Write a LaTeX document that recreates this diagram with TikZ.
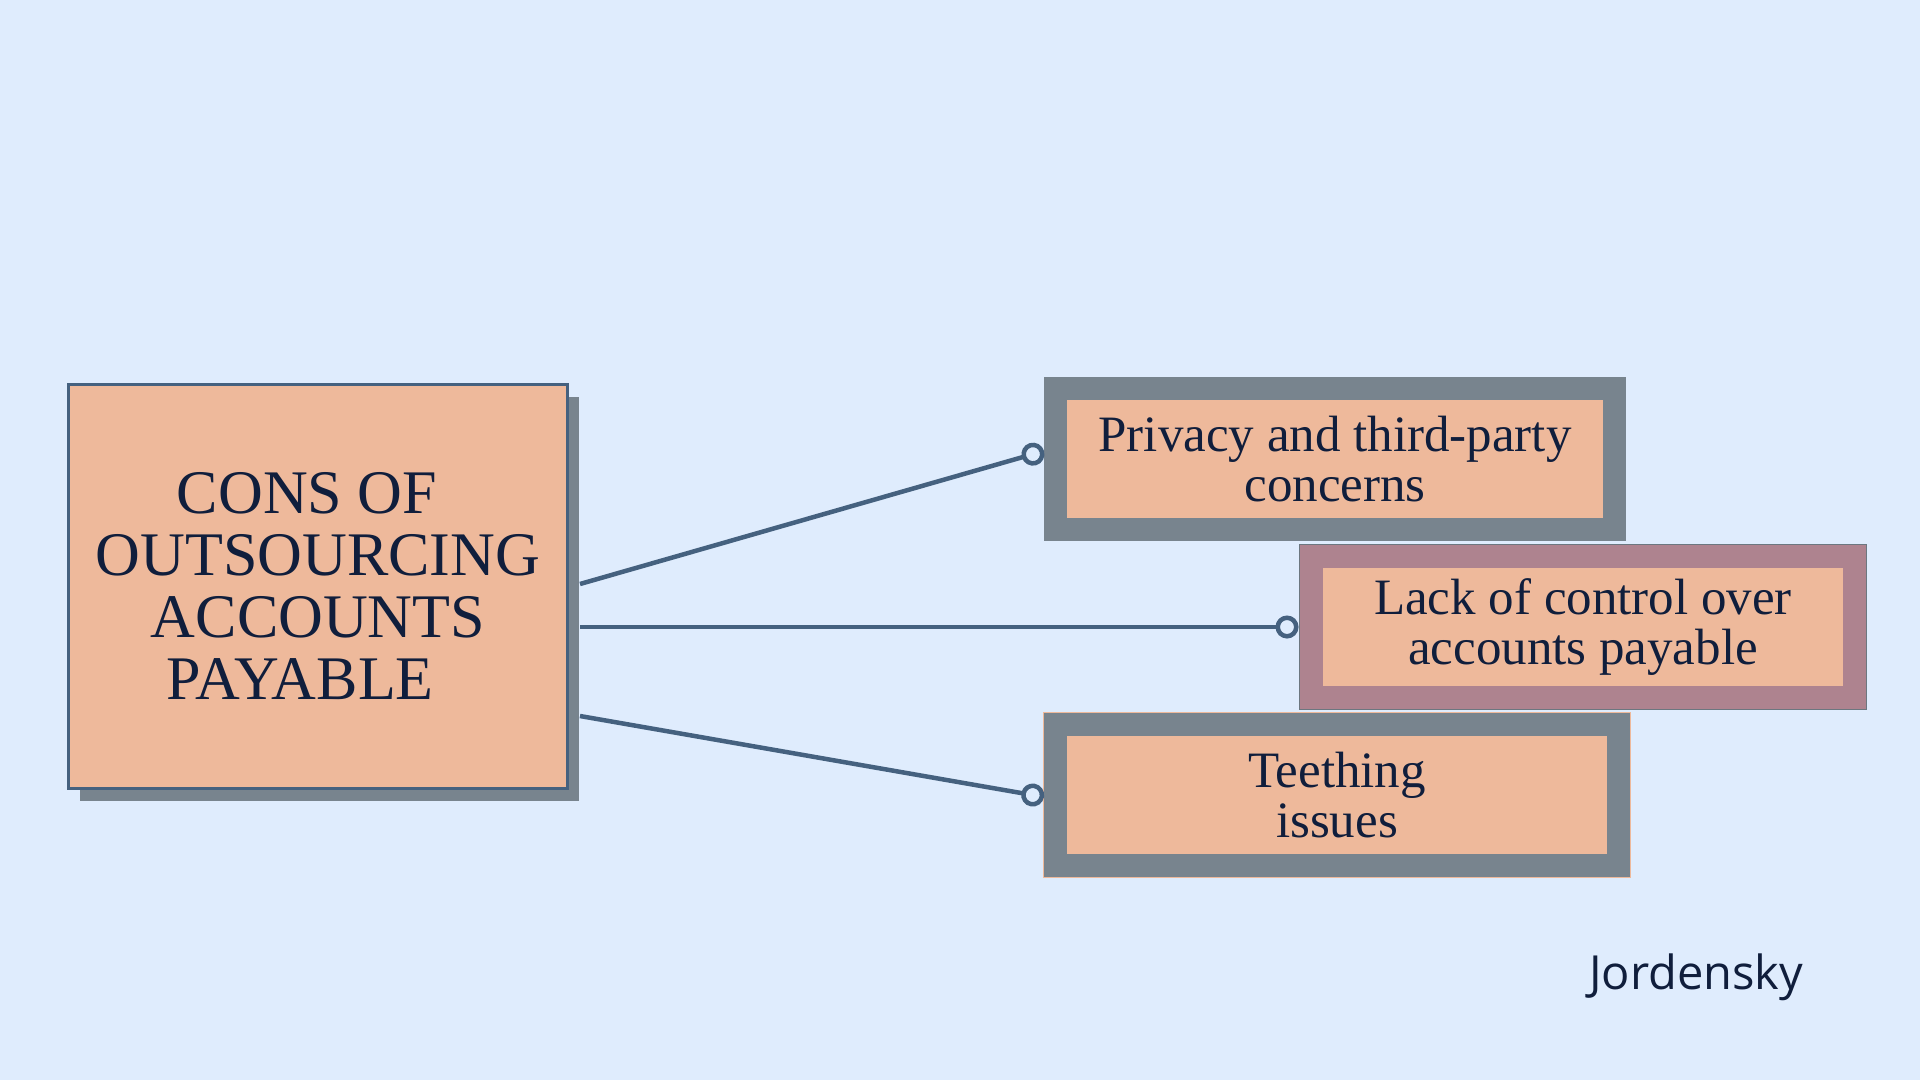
\documentclass[tikz,border=0pt]{standalone}
\usepackage{fontspec}
\setmainfont{Liberation Serif}
\newfontfamily\signfont{Open Sans}
\usetikzlibrary{arrows.meta}
\usetikzlibrary{calc}
\usetikzlibrary{shadows}

\definecolor{bgblue}{HTML}{DFECFD}
\definecolor{peach}{HTML}{EEB99B}
\definecolor{slateframe}{HTML}{78848E}
\definecolor{mauveframe}{HTML}{AE838F}
\definecolor{linkblue}{HTML}{45617F}
\definecolor{inkblue}{HTML}{101E3C}

\begin{document}
\begin{tikzpicture}[x=1pt, y=-1pt]

  % Canvas
  \path [fill=bgblue] (0,0) rectangle (1920,1080);
  \useasboundingbox (0,0) rectangle (1920,1080);

  \path
     coordinate (main)    at (318, 586.5)
     coordinate (privacy) at (1335, 459)
     coordinate (control) at (1583, 627)
     coordinate (teeth)   at (1337, 795)
     coordinate (mtop)    at (580, 584)
     coordinate (mmid)    at (580, 627)
     coordinate (mbot)    at (580, 716)
     coordinate (sign)    at (1589, 989)
    ;

  % Title box
  \tikzset{titlestyle/.style = {shape=rectangle, draw=linkblue, line width=3pt, fill=peach,
      minimum width=499pt, minimum height=404pt, align=center, text=inkblue,
      font=\fontsize{62}{62}\selectfont,
      drop shadow={shadow xshift=11pt, shadow yshift=-12pt, fill=slateframe, opacity=1}}}

  \node [titlestyle] (Main) at (main)
        {CONS OF\hspace*{22pt}\\OUTSOURCING\hspace*{16pt}\\ACCOUNTS\hspace*{14pt}\\PAYABLE\hspace*{36pt}};

  % Cons
  \tikzset{consstyle/.style = {shape=rectangle, draw=#1, line width=23pt, fill=peach,
      minimum height=141pt, inner sep=0pt, align=center, text=inkblue,
      font=\fontsize{51}{50}\selectfont}}
  \tikzset{rimstyle/.style = {preaction={draw=#1, line width=25pt}}}

  \node [consstyle=slateframe, minimum width=559pt] (Privacy) at (privacy)
        {Privacy and third-party\\concerns};
  \node [rimstyle=slateframe!90!black, consstyle=mauveframe, minimum width=543pt] (Control) at (control)
        {Lack of control over\\accounts payable};
  \node [rimstyle=peach, consstyle=slateframe, minimum width=563pt] (Teeth) at (teeth)
        {Teething\\issues};

  % Connecting lines
  \tikzset{linkstyle/.style = {draw=linkblue, line width=4.5pt, -{Circle[open, length=23pt, width=23pt]}}}

  \path [linkstyle] (mtop) -- ([yshift=8pt]Privacy.west);
  \path [linkstyle, shorten >=1.5pt] (mmid) -- (Control.west);
  \path [linkstyle] (mbot) -- ([yshift=-2pt]Teeth.west);

  % Signature
  \node [anchor=base west, inner sep=0pt, text=inkblue, font=\signfont\fontsize{47}{47}\selectfont]
        (Sign) at (sign) {Jordensky};

\end{tikzpicture}
\end{document}
